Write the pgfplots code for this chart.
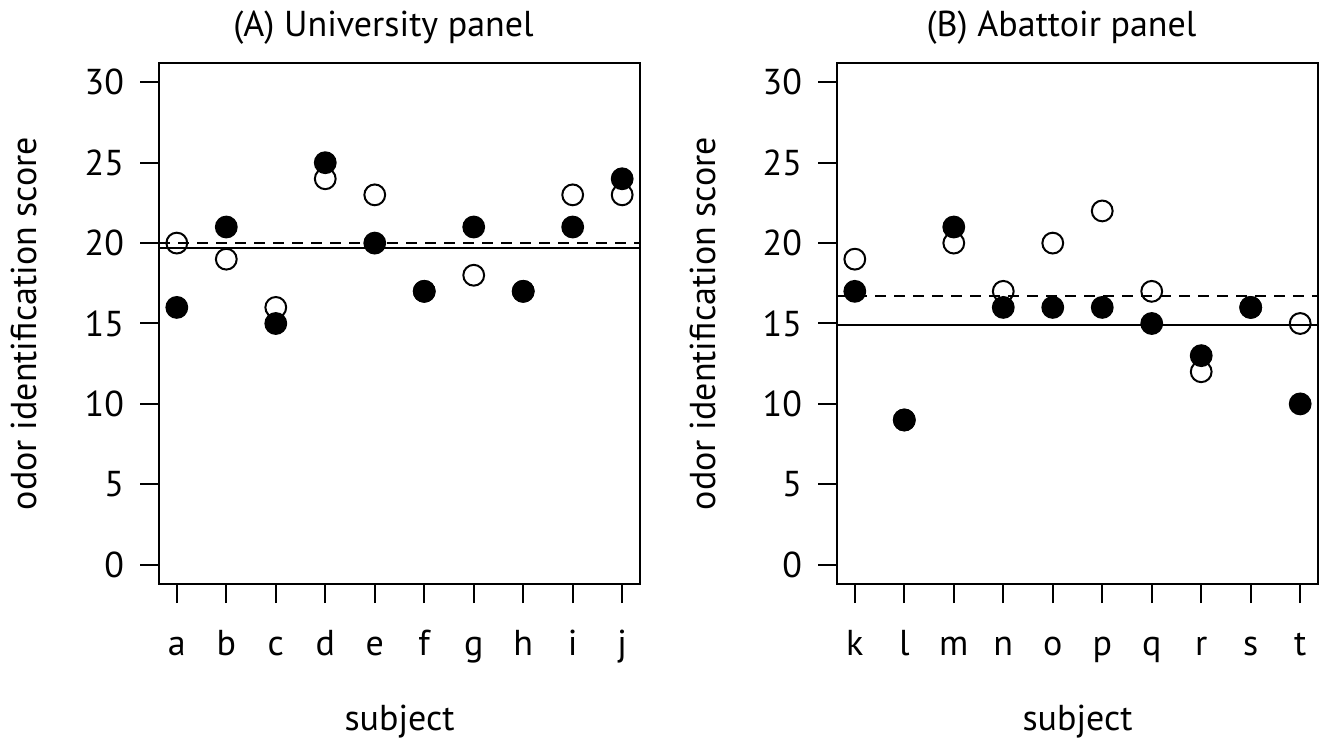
\documentclass[border=0pt]{standalone}
\usepackage{fontspec}
\setmainfont{PT Sans}
\usepackage{pgfplots}
\pgfplotsset{compat=1.18}

\pgfplotsset{rpanel/.style={
    scale only axis, width=240.5pt, height=260.5pt,
    xmin=0.64, xmax=10.36, ymin=-1.2, ymax=31.2,
    xtick={1,...,10}, ytick={0,5,...,30},
    tick pos=left, tick align=outside, major tick length=9.5pt,
    every tick/.style={black, line width=1pt},
    axis line style={line width=1pt},
    ticklabel style={font=\fontsize{18}{20}\selectfont},
    yticklabel style={/pgf/number format/assume math mode=true, xshift=-4.5pt},
    xticklabel style={anchor=base, yshift=-26pt},
    title style={font=\fontsize{18}{20}\selectfont, at={(axis description cs:0.5,1)}, anchor=base, yshift=7pt, xshift=-8pt},
    xlabel style={font=\fontsize{18}{20}\selectfont, at={(axis description cs:0.5,0)}, anchor=base, yshift=-73pt},
    every axis y label/.style={font=\fontsize{18}{20}\selectfont, at={([xshift=-61pt]axis description cs:0,0.5)}, rotate=90, anchor=base},
    xlabel={subject}, ylabel={odor identification score},
    clip=true},
  openpt/.style={only marks, mark=o, mark size=5.2pt, mark options={line width=1pt, black}},
  fullpt/.style={only marks, mark=*, mark size=5.2pt, mark options={line width=1pt, black, fill=black}}}

\begin{document}
\begin{tikzpicture}
\useasboundingbox (0,0) rectangle (660.5pt,369pt);
%% (A) university panel
\begin{axis}[rpanel, name=A, at={(79.5pt,77pt)}, anchor=south west,
    title={(A) University panel},
    xticklabels={a,b,c,d,e,f,g,h,i,j}]
  \addplot[openpt] coordinates {(1,20) (2,19) (3,16) (4,24) (5,23) (6,17) (7,18) (8,17) (9,23) (10,23)};
  \addplot[fullpt] coordinates {(1,16) (2,21) (3,15) (4,25) (5,20) (6,17) (7,21) (8,17) (9,21) (10,24)};
  \addplot[black, line width=1pt] coordinates {(0.64,19.7) (10.36,19.7)};
  \addplot[black, line width=1pt, dash pattern=on 5.5pt off 4pt] coordinates {(0.64,20.0) (10.36,20.0)};
\end{axis}
%% (B) abattoir panel
\begin{axis}[rpanel, name=B, at={(418.5pt,77pt)}, anchor=south west,
    title={(B) Abattoir panel},
    xticklabels={k,l,m,n,o,p,q,r,s,t}]
  \addplot[openpt] coordinates {(1,19) (2,9) (3,20) (4,17) (5,20) (6,22) (7,17) (8,12) (9,16) (10,15)};
  \addplot[fullpt] coordinates {(1,17) (2,9) (3,21) (4,16) (5,16) (6,16) (7,15) (8,13) (9,16) (10,10)};
  \addplot[black, line width=1pt] coordinates {(0.64,14.9) (10.36,14.9)};
  \addplot[black, line width=1pt, dash pattern=on 5.5pt off 4pt] coordinates {(0.64,16.7) (10.36,16.7)};
\end{axis}
\end{tikzpicture}
\end{document}
